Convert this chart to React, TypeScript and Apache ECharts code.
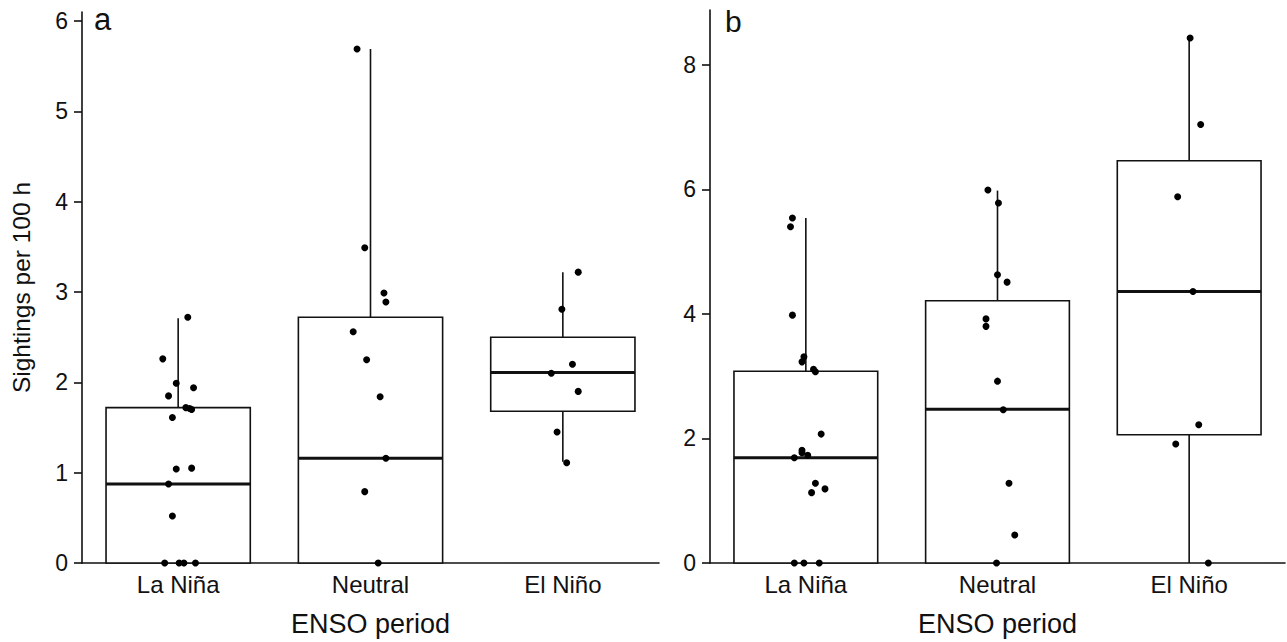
import React, { useEffect, useRef } from "react";
import * as echarts from "echarts";

const categories = ["La Niña", "Neutral", "El Niño"];
const categoryIndex = [0, 1, 2];

// Box statistics [min, Q1, median, Q3, max]
const boxStatsA = [
  [0, 0, 0.875, 1.72, 2.71],
  [0, 0, 1.16, 2.72, 5.69],
  [1.12, 1.68, 2.11, 2.5, 3.22],
];
const boxStatsB = [
  [0, 0, 1.69, 3.08, 5.54],
  [0, 0, 2.47, 4.21, 5.98],
  [0, 2.06, 4.36, 6.46, 8.43],
];

// Panel a points (values) and their horizontal jitter (category units)
const aLaNinaValues = [2.72, 2.26, 1.99, 1.94, 1.85, 1.72, 1.71, 1.7, 1.61, 1.04, 1.05, 0.875, 0.52, 0, 0, 0, 0];
const aLaNinaJitter = [0.05, -0.08, -0.01, 0.08, -0.05, 0.04, 0.06, 0.07, -0.03, -0.01, 0.07, -0.05, -0.03, -0.07, 0.005, 0.03, 0.09];
const aNeutralValues = [5.69, 3.49, 2.99, 2.89, 2.56, 2.25, 1.84, 1.16, 0.79, 0];
const aNeutralJitter = [-0.07, -0.03, 0.07, 0.08, -0.09, -0.02, 0.05, 0.08, -0.03, 0.04];
const aElNinoValues = [3.22, 2.81, 2.2, 2.1, 1.9, 1.45, 1.11];
const aElNinoJitter = [0.08, -0.005, 0.05, -0.06, 0.08, -0.03, 0.02];

// Panel b points
const bLaNinaValues = [5.54, 5.4, 3.98, 3.31, 3.23, 3.11, 3.07, 2.07, 1.81, 1.77, 1.73, 1.69, 1.28, 1.19, 1.13, 0, 0, 0];
const bLaNinaJitter = [-0.07, -0.08, -0.07, -0.01, -0.02, 0.04, 0.05, 0.08, -0.02, -0.02, 0.01, -0.06, 0.05, 0.1, 0.03, -0.06, -0.01, 0.07];
const bNeutralValues = [5.99, 5.78, 4.63, 4.51, 3.92, 3.8, 2.92, 2.46, 1.28, 0.45, 0];
const bNeutralJitter = [-0.05, 0.005, 0, 0.05, -0.06, -0.06, 0, 0.03, 0.06, 0.09, -0.005];
const bElNinoValues = [8.43, 7.04, 5.88, 4.36, 2.22, 1.91, 0];
const bElNinoJitter = [0.005, 0.06, -0.06, 0.02, 0.05, -0.07, 0.1];

const yTicksA = [0, 1, 2, 3, 4, 5, 6];
const yTicksB = [0, 2, 4, 6, 8];

const FONT = "Liberation Sans, Arial, Helvetica, sans-serif";
const INK = "#111111";

function pts(cat: number, values: number[], jitter: number[]) {
  return values.map((v, i) => [cat + jitter[i], v]);
}

const renderBox = (params: any, api: any) => {
  const idx = api.value(0);
  const mn = api.value(1);
  const q1 = api.value(2);
  const med = api.value(3);
  const q3 = api.value(4);
  const mx = api.value(5);
  const halfW = api.size([1, 0])[0] * 0.375;
  const pMin = api.coord([idx, mn]);
  const pQ1 = api.coord([idx, q1]);
  const pMed = api.coord([idx, med]);
  const pQ3 = api.coord([idx, q3]);
  const pMax = api.coord([idx, mx]);
  const cx = pMed[0];
  const lineStyle = { stroke: INK, lineWidth: 1.6, fill: null };
  const children: any[] = [
    { type: "line", shape: { x1: cx, y1: pQ3[1], x2: cx, y2: pMax[1] }, style: lineStyle },
    { type: "line", shape: { x1: cx, y1: pQ1[1], x2: cx, y2: pMin[1] }, style: lineStyle },
    {
      type: "rect",
      shape: { x: cx - halfW, y: pQ3[1], width: halfW * 2, height: pQ1[1] - pQ3[1] },
      style: { fill: "#ffffff", stroke: INK, lineWidth: 1.6 },
    },
    {
      type: "line",
      shape: { x1: cx - halfW, y1: pMed[1], x2: cx + halfW, y2: pMed[1] },
      style: { stroke: INK, lineWidth: 3 },
    },
  ];
  return { type: "group", children };
};

function boxData(stats: number[][]) {
  return stats.map((s, i) => [categoryIndex[i], ...s]);
}

export default function App() {
  const ref = useRef<HTMLDivElement>(null);
  useEffect(() => {
    if (!ref.current) return;
    const chart = echarts.init(ref.current, null, { renderer: "svg" });
    const catAxis = (gridIndex: number, withName: boolean) => ({
      type: "category",
      gridIndex,
      data: categories,
      boundaryGap: true,
      axisLine: { onZero: false, lineStyle: { color: INK, width: 1.6 } },
      axisTick: { alignWithLabel: true, length: 7, lineStyle: { color: INK, width: 1.6 } },
      axisLabel: { color: INK, fontSize: 24, fontFamily: FONT, margin: 9 },
      name: withName ? "ENSO period" : "",
      nameLocation: "middle",
      nameGap: 47,
      nameTextStyle: { color: INK, fontSize: 27, fontFamily: FONT },
    });
    const valXAxis = (gridIndex: number) => ({
      type: "value",
      gridIndex,
      min: -0.5,
      max: 2.5,
      show: false,
      axisLine: { onZero: false },
    });
    const option: any = {
      animation: false,
      backgroundColor: "#ffffff",
      grid: [
        { left: 82, top: 12, width: 577, height: 551 },
        { left: 710, top: 10, width: 575, height: 553 },
      ],
      xAxis: [catAxis(0, true), valXAxis(0), catAxis(1, true), valXAxis(1)],
      yAxis: [
        {
          type: "value",
          gridIndex: 0,
          min: 0,
          max: 6.1,
          interval: 1,
          splitLine: { show: false },
          axisLine: { show: true, onZero: false, lineStyle: { color: INK, width: 1.6 } },
          axisTick: { show: true, length: 8, customValues: yTicksA, lineStyle: { color: INK, width: 1.6 } },
          axisLabel: { color: INK, fontSize: 23, fontFamily: FONT, margin: 14, customValues: yTicksA },
          name: "Sightings per 100 h",
          nameLocation: "middle",
          nameGap: 48,
          nameTextStyle: { color: INK, fontSize: 24.5, fontFamily: FONT },
        },
        {
          type: "value",
          gridIndex: 1,
          min: 0,
          max: 8.88,
          interval: 2,
          splitLine: { show: false },
          axisLine: { show: true, onZero: false, lineStyle: { color: INK, width: 1.6 } },
          axisTick: { show: true, length: 8, customValues: yTicksB, lineStyle: { color: INK, width: 1.6 } },
          axisLabel: { color: INK, fontSize: 23, fontFamily: FONT, margin: 14, customValues: yTicksB },
        },
      ],
      graphic: [
        { type: "text", left: 94, top: 4, style: { text: "a", fontSize: 31, fontFamily: FONT, fill: INK } },
        { type: "text", left: 725, top: 6, style: { text: "b", fontSize: 30, fontFamily: FONT, fill: INK } },
      ],
      series: [
        {
          type: "custom",
          xAxisIndex: 0,
          yAxisIndex: 0,
          renderItem: renderBox,
          encode: { x: 0, y: [1, 2, 3, 4, 5] },
          data: boxData(boxStatsA),
          z: 2,
        },
        {
          type: "custom",
          xAxisIndex: 2,
          yAxisIndex: 1,
          renderItem: renderBox,
          encode: { x: 0, y: [1, 2, 3, 4, 5] },
          data: boxData(boxStatsB),
          z: 2,
        },
        {
          type: "scatter",
          xAxisIndex: 1,
          yAxisIndex: 0,
          symbolSize: 7,
          itemStyle: { color: "#000", opacity: 1 },
          z: 5,
          data: [
            ...pts(0, aLaNinaValues, aLaNinaJitter),
            ...pts(1, aNeutralValues, aNeutralJitter),
            ...pts(2, aElNinoValues, aElNinoJitter),
          ],
        },
        {
          type: "scatter",
          xAxisIndex: 3,
          yAxisIndex: 1,
          symbolSize: 7,
          itemStyle: { color: "#000", opacity: 1 },
          z: 5,
          data: [
            ...pts(0, bLaNinaValues, bLaNinaJitter),
            ...pts(1, bNeutralValues, bNeutralJitter),
            ...pts(2, bElNinoValues, bElNinoJitter),
          ],
        },
      ],
    };
    chart.setOption(option);
    return () => chart.dispose();
  }, []);
  return (
    <div
      ref={ref}
      style={{ position: "fixed", left: 0, top: 0, width: 1287, height: 642, background: "#fff" }}
    />
  );
}
